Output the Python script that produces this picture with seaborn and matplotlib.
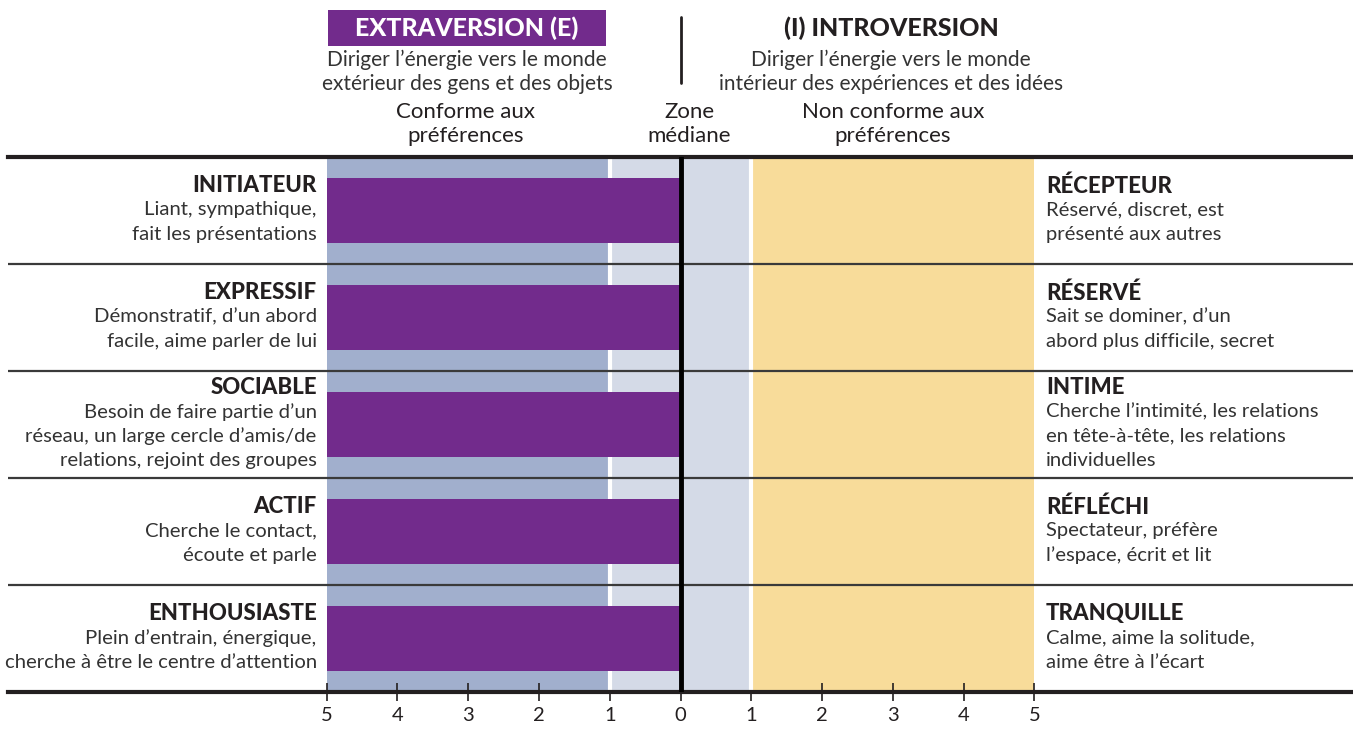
import numpy as np
import pandas as pd
import matplotlib
matplotlib.use('Agg')
import matplotlib.pyplot as plt
import seaborn as sns
from matplotlib.patches import Rectangle

# 데이터
left_titles = ['INITIATEUR', 'EXPRESSIF', 'SOCIABLE', 'ACTIF', 'ENTHOUSIASTE']
left_desc = [
    ['Liant, sympathique,', 'fait les présentations'],
    ['Démonstratif, d\u2019un abord', 'facile, aime parler de lui'],
    ['Besoin de faire partie d\u2019un', 'réseau, un large cercle d\u2019amis/de', 'relations, rejoint des groupes'],
    ['Cherche le contact,', 'écoute et parle'],
    ['Plein d\u2019entrain, énergique,', 'cherche à être le centre d\u2019attention'],
]
right_titles = ['RÉCEPTEUR', 'RÉSERVÉ', 'INTIME', 'RÉFLÉCHI', 'TRANQUILLE']
right_desc = [
    ['Réservé, discret, est', 'présenté aux autres'],
    ['Sait se dominer, d\u2019un', 'abord plus difficile, secret'],
    ['Cherche l\u2019intimité, les relations', 'en tête-à-tête, les relations', 'individuelles'],
    ['Spectateur, préfère', 'l\u2019espace, écrit et lit'],
    ['Calme, aime la solitude,', 'aime être à l\u2019écart'],
]
extraversion_scores = [5, 5, 5, 5, 5]
tick_values = [-5, -4, -3, -2, -1, 0, 1, 2, 3, 4, 5]

PURPLE = '#722b8c'
DARK_BLUE = '#a1afcd'
LIGHT_BLUE = '#d4dae7'
YELLOW = '#f8dc9a'
TEXT = '#231f20'
GREY = '#333333'

sns.set_style('white')
plt.rcParams['font.family'] = ['Lato', 'DejaVu Sans']

fig = plt.figure(figsize=(13.53, 7.29), dpi=100)
ax = fig.add_axes([8 / 1353, 1 - 692 / 729, 1345 / 1353, 535 / 729])

df = pd.DataFrame({'facette': left_titles, 'score': [-s for s in extraversion_scores]})

# 배경 영역
ax.axvspan(-5, -1, color=DARK_BLUE, lw=0, zorder=0)
ax.axvspan(-1, 1, color=LIGHT_BLUE, lw=0, zorder=0)
ax.axvspan(1, 5, color=YELLOW, lw=0, zorder=0)
ax.axvline(-1, color='white', lw=3, zorder=1)
ax.axvline(1, color='white', lw=3, zorder=1)

sns.barplot(data=df, x='score', y='facette', orient='h', color=PURPLE,
            saturation=1, width=0.61, ax=ax, zorder=2, edgecolor='none', linewidth=0)

for yy in [0.5, 1.5, 2.5, 3.5]:
    ax.axhline(yy, color='#3a3a3a', lw=1.6, zorder=3)
ax.axvline(0, color='black', lw=3.5, zorder=4)

ax.set_xlim(-9.5, 9.5)
ax.set_ylim(4.5, -0.5)
ax.set_xlabel('')
ax.set_ylabel('')
ax.set_yticks([])
ax.set_xticks(tick_values)
ax.set_xticklabels([str(abs(v)) for v in tick_values])
ax.tick_params(axis='x', direction='inout', length=13, width=1.2, color=TEXT,
               labelsize=14.5, labelcolor=TEXT, pad=4, bottom=True)
for side in ['left', 'right']:
    ax.spines[side].set_visible(False)
for side in ['top', 'bottom']:
    ax.spines[side].set_color(TEXT)
    ax.spines[side].set_linewidth(3)

step = 0.226
for i in range(5):
    lines = [left_titles[i]] + left_desc[i]
    n = len(lines)
    for k, txt in enumerate(lines):
        y = i - 0.005 + (k - (n - 1) / 2) * step
        if k == 0:
            ax.text(-5.14, y, txt, ha='right', va='center', fontsize=16,
                    fontweight='black', color=TEXT)
        else:
            ax.text(-5.14, y, txt, ha='right', va='center', fontsize=14.6,
                    color=GREY)
    lines = [right_titles[i]] + right_desc[i]
    n = len(lines)
    for k, txt in enumerate(lines):
        y = i - 0.005 + (k - (n - 1) / 2) * step
        if k == 0:
            ax.text(5.16, y, txt, ha='left', va='center', fontsize=16,
                    fontweight='black', color=TEXT)
        else:
            ax.text(5.16, y, txt, ha='left', va='center', fontsize=14.6,
                    color=GREY)

# 상단 제목
fig.patches.append(Rectangle((328 / 1353, 1 - 46 / 729), 278 / 1353, 36 / 729,
                             transform=fig.transFigure, color=PURPLE, lw=0))
fig.text(467 / 1353, 1 - 28 / 729, 'EXTRAVERSION (E)', ha='center', va='center',
         fontsize=18, fontweight='black', color='white')
fig.text(891 / 1353, 1 - 28 / 729, '(I) INTROVERSION', ha='center', va='center',
         fontsize=18, fontweight='black', color=TEXT)
fig.add_artist(plt.Line2D([681 / 1353, 681 / 1353], [1 - 17 / 729, 1 - 83 / 729],
                          transform=fig.transFigure, color=TEXT, lw=2))

fig.text(467 / 1353, 1 - 60 / 729, 'Diriger l\u2019énergie vers le monde', ha='center',
         va='center', fontsize=15, color=GREY)
fig.text(467 / 1353, 1 - 84 / 729, 'extérieur des gens et des objets', ha='center',
         va='center', fontsize=15, color=GREY)
fig.text(891 / 1353, 1 - 60 / 729, 'Diriger l\u2019énergie vers le monde', ha='center',
         va='center', fontsize=15, color=GREY)
fig.text(891 / 1353, 1 - 84 / 729, 'intérieur des expériences et des idées', ha='center',
         va='center', fontsize=15, color=GREY)

for cx, l1, l2 in [(466, 'Conforme aux', 'préférences'),
                   (689, 'Zone', 'médiane'),
                   (893, 'Non conforme aux', 'préférences')]:
    fig.text(cx / 1353, 1 - 112 / 729, l1, ha='center', va='center', fontsize=16, color=TEXT)
    fig.text(cx / 1353, 1 - 136 / 729, l2, ha='center', va='center', fontsize=16, color=TEXT)

fig.savefig('out.png', dpi=100)
